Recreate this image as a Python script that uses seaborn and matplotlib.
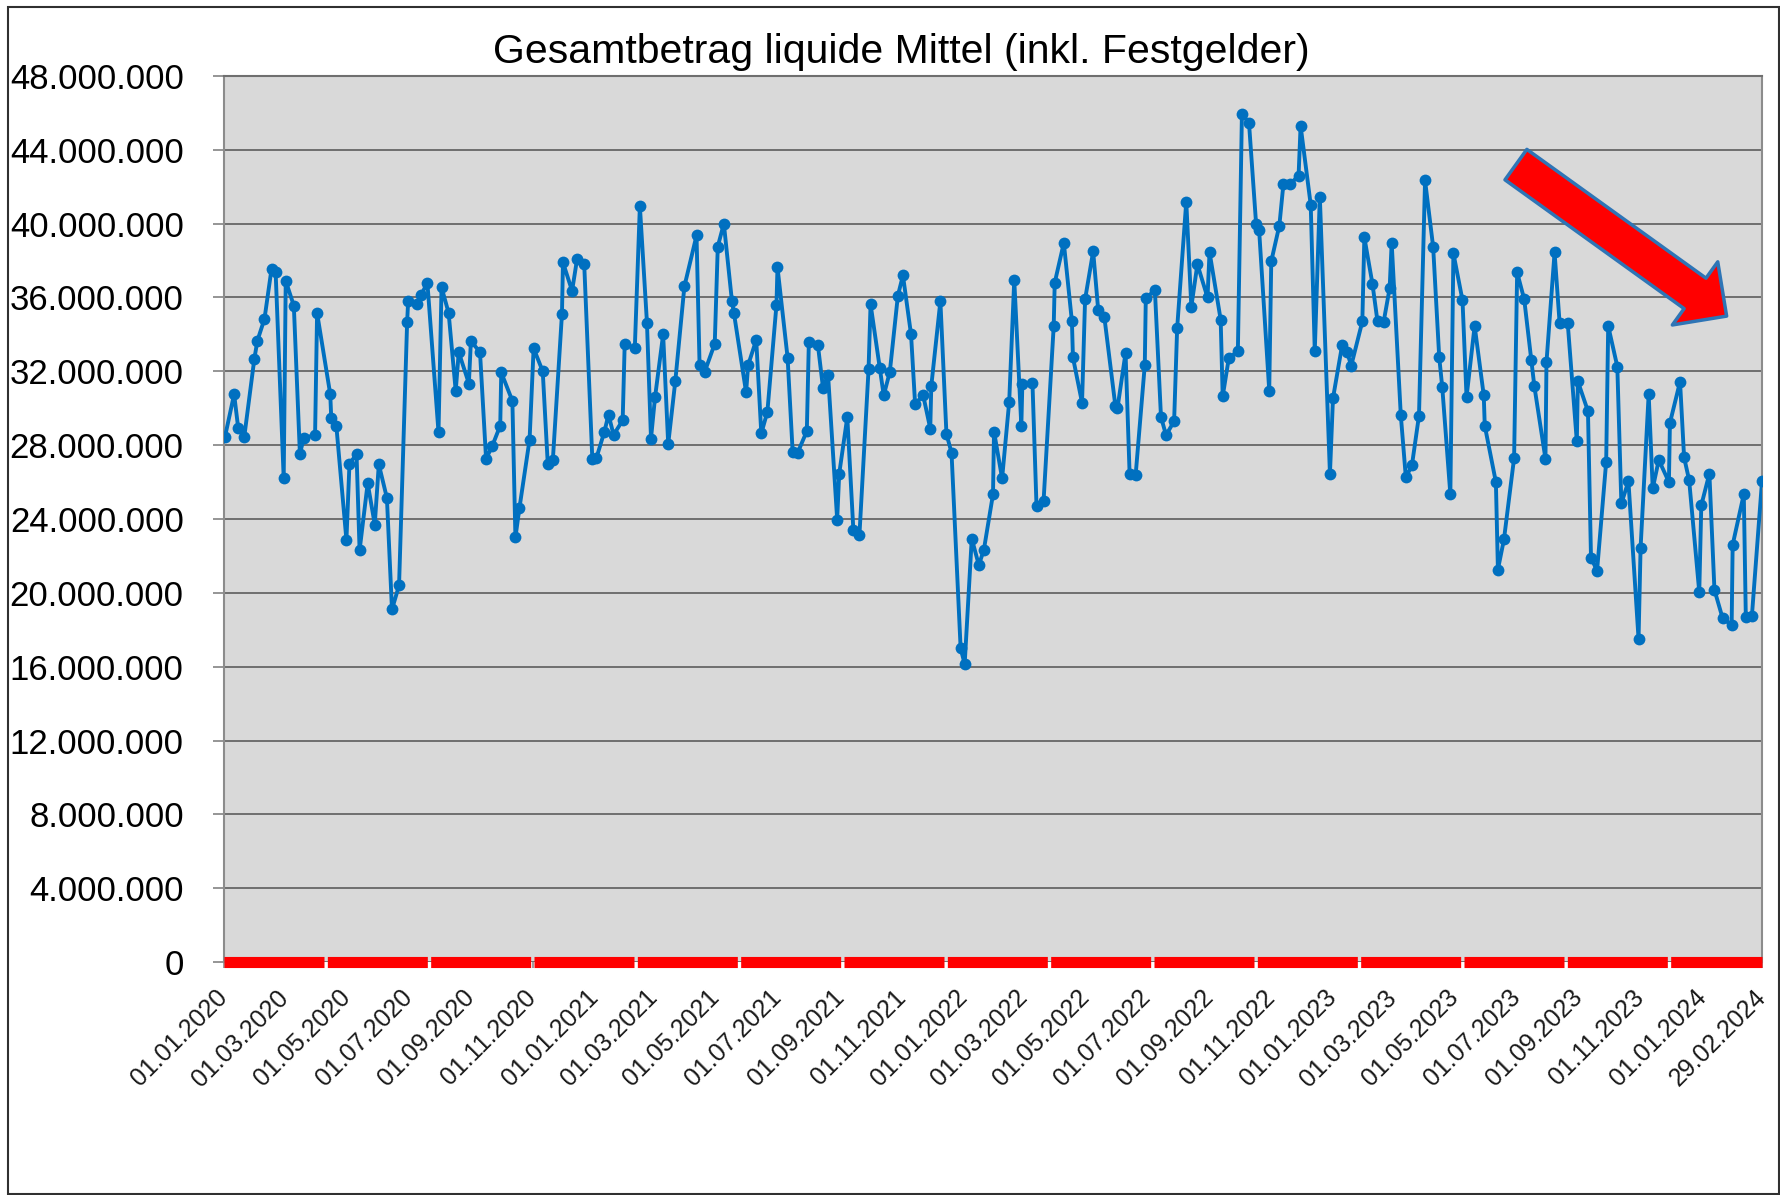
import matplotlib
matplotlib.use('Agg')
import matplotlib.pyplot as plt
from matplotlib.ticker import FuncFormatter, MultipleLocator
from matplotlib.patches import Rectangle
import seaborn as sns
import pandas as pd
import numpy as np

# ---- data ----
start_date = '2020-01-01'
end_date = '2024-02-29'
title = 'Gesamtbetrag liquide Mittel (inkl. Festgelder)'

# days after 01.01.2020
day_offset = [
    1, 10, 14, 20, 30, 33, 40, 47, 51, 59, 61, 69, 75, 79, 90, 92, 105, 106, 111, 121, 124, 131, 134, 142, 149, 153,
    161, 166, 173, 181, 182, 191, 195, 201, 212, 215, 222, 229, 232, 242, 244, 253, 259, 265, 273, 274, 285, 288, 292, 302, 306,
    315, 320, 325, 334, 335, 344, 349, 356, 364, 368, 376, 380, 385, 394, 396, 406, 411, 418, 422, 426, 434, 439, 446, 455,
    467, 470, 475, 485, 488, 494, 502, 504, 516, 518, 526, 531, 537, 546, 547, 557, 562, 567, 576, 578, 587, 592, 597, 606, 608,
    616, 622, 628, 637, 639, 648, 652, 658, 666, 671, 679, 683, 691, 698, 699, 708, 714, 719, 728, 732, 739, 746, 751, 760, 761,
    769, 776, 781, 788, 789, 799, 803, 810, 820, 821, 830, 838, 839, 848, 851, 859, 864, 870, 881, 883, 891, 895, 901, 910, 911, 920,
    926, 931, 939, 942, 951, 956, 962, 972, 974, 985, 987, 993, 1002, 1006, 1013, 1020, 1023, 1033, 1035, 1043, 1047, 1054, 1062, 1064, 1074,
    1078, 1083, 1093, 1096, 1105, 1110, 1114, 1125, 1127, 1135, 1140, 1146, 1152, 1154, 1163, 1168, 1174, 1181, 1187, 1195, 1201, 1204, 1212, 1215, 1224,
    1228, 1236, 1245, 1246, 1257, 1259, 1265, 1275, 1278, 1285, 1292, 1295, 1306, 1307, 1315, 1320, 1328, 1337, 1338, 1348, 1351, 1357, 1366, 1368, 1377,
    1381, 1388, 1398, 1400, 1408, 1412, 1418, 1428, 1429, 1439, 1443, 1448, 1458, 1460, 1468, 1473, 1481, 1490, 1491, 1502, 1504, 1510, 1520,
]

# liquid funds in million EUR
liquide_mittel_mio = [
    28.46, 30.76, 28.94, 28.44, 32.68, 33.66, 34.84, 37.56, 37.4, 26.2, 36.9, 35.56, 27.54, 28.4, 28.54, 35.16, 30.76, 29.46, 29.06, 22.86, 27.0, 27.5, 22.3, 25.94, 23.7, 26.96,
    25.14, 19.1, 20.4, 34.68, 35.8, 35.66, 36.16, 36.8, 28.7, 36.56, 35.16, 30.94, 33.04, 31.34, 33.64, 33.04, 27.26, 27.94, 29.06, 31.94, 30.4, 23.0, 24.6, 28.3, 33.25,
    32.0, 26.96, 27.2, 35.1, 37.9, 36.36, 38.1, 37.8, 27.26, 27.3, 28.74, 29.66, 28.56, 29.34, 33.46, 33.26, 40.96, 34.64, 28.36, 30.6, 34.0, 28.06, 31.46, 36.6,
    39.36, 32.34, 31.96, 33.5, 38.76, 40.0, 35.8, 35.14, 30.86, 32.34, 33.7, 28.64, 29.8, 35.6, 37.64, 32.74, 27.64, 27.6, 28.76, 33.6, 33.4, 31.1, 31.8, 23.97, 26.45,
    29.52, 23.4, 23.14, 32.1, 35.64, 32.2, 30.7, 31.96, 36.1, 37.2, 34.0, 30.24, 30.7, 28.9, 31.2, 35.8, 28.6, 27.6, 17.0, 16.14, 22.94, 21.5, 22.34, 25.34, 28.74,
    26.2, 30.34, 36.96, 29.04, 31.3, 31.36, 24.7, 25.0, 34.46, 36.8, 38.96, 34.7, 32.76, 30.3, 35.9, 38.5, 35.3, 34.96, 30.1, 30.0, 33.0, 26.46, 26.4, 32.34, 35.96, 36.4,
    29.54, 28.54, 29.3, 34.34, 41.2, 35.5, 37.8, 36.0, 38.46, 34.8, 30.64, 32.7, 33.1, 45.94, 45.46, 40.0, 39.66, 30.96, 37.96, 39.9, 42.14, 42.16, 42.6, 45.3, 41.02,
    33.1, 41.46, 26.44, 30.54, 33.4, 33.04, 32.3, 34.7, 39.26, 36.74, 34.7, 34.66, 36.5, 38.96, 29.64, 26.26, 26.9, 29.6, 42.34, 38.74, 32.76, 31.14, 25.34, 38.4, 35.85,
    30.6, 34.46, 30.7, 29.06, 26.0, 21.26, 22.9, 27.3, 37.36, 35.9, 32.64, 31.2, 27.26, 32.5, 38.44, 34.6, 34.6, 28.2, 31.46, 29.84, 21.9, 21.2, 27.1, 34.46, 32.26,
    24.84, 26.04, 17.5, 22.44, 30.76, 25.66, 27.2, 26.0, 29.2, 31.44, 27.34, 26.1, 20.04, 24.74, 26.46, 20.16, 18.64, 18.24, 22.6, 25.34, 18.7, 18.74, 26.04,
]

y_max = 48_000_000
y_step = 4_000_000

# ---- styling ----
sns.set_theme(style='white')
plt.rcParams['font.family'] = ['Liberation Sans', 'DejaVu Sans']

W, H = 1781, 1195
fig = plt.figure(figsize=(W / 100, H / 100), dpi=100)
fig.patch.set_facecolor('white')

left, right, top, bottom = 224, 1762, 76, 962
ax = fig.add_axes([left / W, 1 - bottom / H, (right - left) / W, (bottom - top) / H])
ax.set_facecolor('#D9D9D9')

df = pd.DataFrame({
    'Datum': pd.Timestamp(start_date) + pd.to_timedelta(day_offset, unit='D'),
    'Betrag': np.array(liquide_mittel_mio) * 1e6,
})

# red zero line
ax.axhline(0, color='#FF0000', lw=8, dashes=(9, 0.3), clip_on=False, zorder=5)

sns.lineplot(data=df, x='Datum', y='Betrag', ax=ax, color='#0070C0', lw=2.8,
             marker='o', markersize=8.5, markeredgewidth=0, markeredgecolor='#0070C0',
             estimator=None, zorder=4)

ax.set_xlim(pd.Timestamp(start_date), pd.Timestamp(end_date))
ax.set_ylim(0, y_max)
ax.yaxis.set_major_locator(MultipleLocator(y_step))
ax.yaxis.set_major_formatter(FuncFormatter(lambda v, p: f'{int(round(v)):,}'.replace(',', '.')))

ax.yaxis.grid(True, color='#6f6f6f', lw=1.4)
ax.xaxis.grid(False)
ax.set_axisbelow(True)

for s in ['left', 'right', 'top']:
    ax.spines[s].set_color('#8c8c8c')
    ax.spines[s].set_linewidth(1.5)
ax.spines['top'].set_color('#6f6f6f')
ax.spines['bottom'].set_visible(False)

ticks = list(pd.date_range(start_date, '2024-01-01', freq='2MS')) + [pd.Timestamp(end_date)]
ax.set_xticks(ticks)
ax.set_xticklabels([t.strftime('%d.%m.%Y') for t in ticks], rotation=45, ha='right',
                   va='center', rotation_mode='anchor', fontsize=18, color='#1a1a1a')
ax.tick_params(axis='x', bottom=True, length=4, width=1.2, color='#8c8c8c', pad=19)
ax.tick_params(axis='y', left=True, length=8, width=1.3, color='#8c8c8c', pad=21,
               labelsize=25, labelcolor='black')
ax.set_xlabel('')
ax.set_ylabel('')

# red trend arrow
ax.annotate('', xy=(0.977, 0.729), xytext=(0.840, 0.900), xycoords='axes fraction',
            textcoords='axes fraction',
            arrowprops=dict(arrowstyle='simple,head_length=2.8,head_width=5.6,tail_width=2.7',
                            mutation_scale=10, fc='#FF0000', ec='#2E75B6', lw=2.5,
                            shrinkA=0, shrinkB=0), zorder=6)

fig.text(901 / W, 1 - 52 / H, title, ha='center', va='center', fontsize=29.5, color='black')

fig.patches.append(Rectangle((8 / W, 0.001), 1 - 8 / W - 0.001, 1 - 7 / H - 0.001,
                             transform=fig.transFigure, fill=False, ec='#303030', lw=1.5))

fig.savefig('out.png', dpi=100)
